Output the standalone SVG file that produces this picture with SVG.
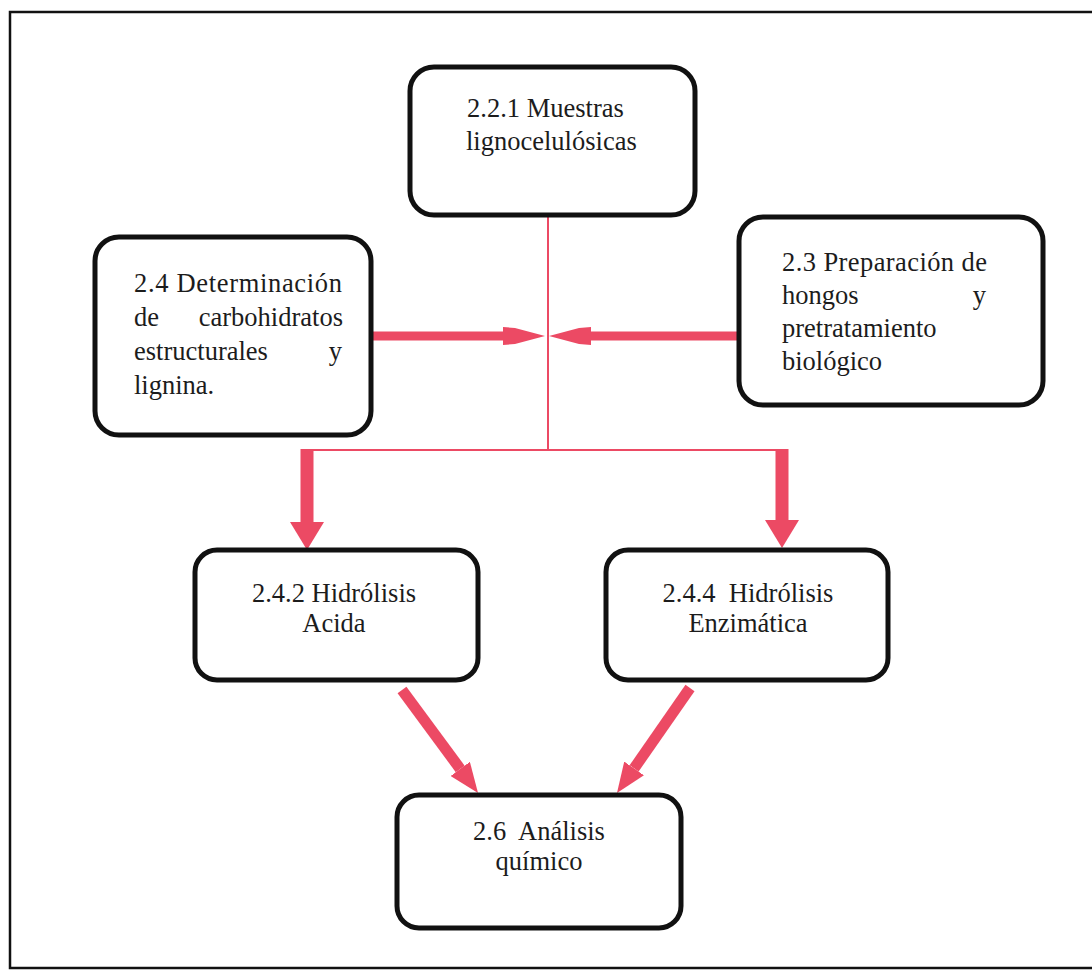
<svg xmlns="http://www.w3.org/2000/svg" width="1092" height="970" viewBox="0 0 1092 970">
  <style>
    .box { fill: #ffffff; stroke: #111111; stroke-width: 5; }
    .t { font-family: "Liberation Serif", "Times New Roman", serif; font-size: 26.5px; fill: #1c1c1c; }
    .c { text-anchor: middle; }
    .e { text-anchor: end; }
    .thin { stroke: #EC4A64; stroke-width: 2; fill: none; }
    .thick { stroke: #EC4A64; fill: none; }
  </style>
  <defs>
    <marker id="hH" markerUnits="userSpaceOnUse" viewBox="0 0 42 18" markerWidth="42" markerHeight="18" refX="0" refY="9" orient="auto">
      <path d="M0,0 L12,1 L42,9 L12,17 L0,18 Z" fill="#EC4A64"/>
    </marker>
    <marker id="hD" markerUnits="userSpaceOnUse" viewBox="0 0 28 34" markerWidth="28" markerHeight="34" refX="0" refY="17" orient="auto">
      <path d="M0,0 L28,17 L0,34 Z" fill="#EC4A64"/>
    </marker>
    <marker id="hG" markerUnits="userSpaceOnUse" viewBox="0 0 30 24" markerWidth="30" markerHeight="24" refX="0" refY="12" orient="auto">
      <path d="M0,0 L30,12 L0,24 Z" fill="#EC4A64"/>
    </marker>
  </defs>

  <rect id="frame" x="10" y="12" width="1100" height="956" fill="#ffffff" stroke="#111111" stroke-width="2.5"/>

  <g id="connectors">
    <line class="thin" x1="548" y1="217" x2="548" y2="450"/>
    <line class="thin" x1="307" y1="450" x2="782" y2="450"/>
    <line class="thick" stroke-width="9" x1="373" y1="336" x2="503" y2="336" marker-end="url(#hH)"/>
    <line class="thick" stroke-width="9" x1="737" y1="336" x2="591" y2="336" marker-end="url(#hH)"/>
    <line class="thick" stroke-width="13" x1="307" y1="449" x2="307" y2="522" marker-end="url(#hD)"/>
    <line class="thick" stroke-width="13" x1="782" y1="449" x2="782" y2="520" marker-end="url(#hD)"/>
    <line class="thick" stroke-width="11" x1="402" y1="690" x2="460.2" y2="768.9" marker-end="url(#hG)"/>
    <line class="thick" stroke-width="11" x1="690" y1="688" x2="634.1" y2="768.4" marker-end="url(#hG)"/>
  </g>

  <g id="n_muestras">
    <rect class="box" x="410" y="67" width="285" height="148" rx="24"/>
    <text class="t" x="467" y="117">2.2.1 Muestras</text>
    <text class="t" x="466" y="150">lignocelulósicas</text>
  </g>

  <g id="n_determinacion">
    <rect class="box" x="95" y="237" width="276" height="198" rx="24"/>
    <text class="t" x="134" y="292" textLength="208" lengthAdjust="spacing">2.4 Determinación</text>
    <text class="t" x="134" y="326">de</text>
    <text class="t e" x="343" y="326">carbohidratos</text>
    <text class="t" x="134" y="360">estructurales</text>
    <text class="t e" x="342" y="360">y</text>
    <text class="t" x="134" y="394">lignina.</text>
  </g>

  <g id="n_preparacion">
    <rect class="box" x="739" y="217" width="304" height="188" rx="24"/>
    <text class="t" x="782" y="271" textLength="205" lengthAdjust="spacing">2.3 Preparación de</text>
    <text class="t" x="782" y="304">hongos</text>
    <text class="t e" x="986" y="304">y</text>
    <text class="t" x="782" y="337">pretratamiento</text>
    <text class="t" x="782" y="370">biológico</text>
  </g>

  <g id="n_acida">
    <rect class="box" x="195" y="550" width="283" height="130" rx="22"/>
    <text class="t c" x="334" y="602">2.4.2 Hidrólisis</text>
    <text class="t c" x="334" y="632">Acida</text>
  </g>

  <g id="n_enzimatica">
    <rect class="box" x="606" y="550" width="282" height="130" rx="22"/>
    <text class="t c" x="748" y="602" xml:space="preserve">2.4.4  Hidrólisis</text>
    <text class="t c" x="748" y="632">Enzimática</text>
  </g>

  <g id="n_analisis">
    <rect class="box" x="397" y="795" width="284" height="133" rx="22"/>
    <text class="t c" x="539" y="840" xml:space="preserve">2.6  Análisis</text>
    <text class="t c" x="539" y="870">químico</text>
  </g>
</svg>
